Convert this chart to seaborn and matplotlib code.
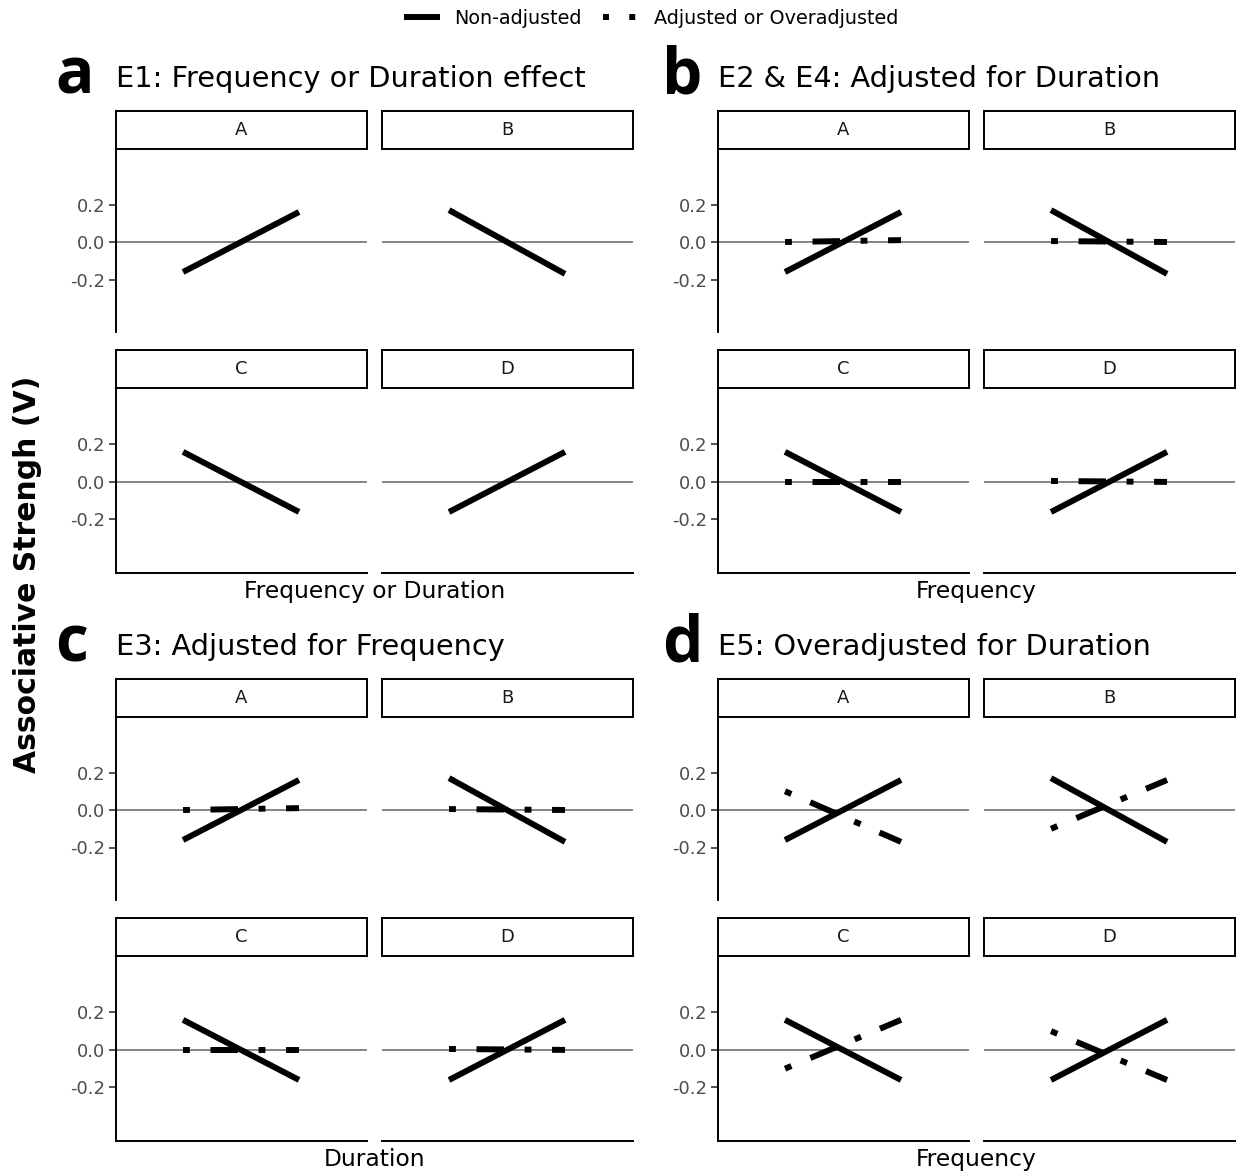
import numpy as np
import pandas as pd
import matplotlib.pyplot as plt
import seaborn as sns
from matplotlib.lines import Line2D

# Experiments (big panels) and their facets
groups = ['a', 'b', 'c', 'd']
titles = ['E1: Frequency or Duration effect', 'E2 & E4: Adjusted for Duration',
          'E3: Adjusted for Frequency', 'E5: Overadjusted for Duration']
xlabels = ['Frequency or Duration', 'Frequency', 'Duration', 'Frequency']
facets = ['A', 'B', 'C', 'D']

# Non-adjusted lines (value at start, value at end), same in every experiment
solid_start = [-0.16, 0.17, 0.16, -0.16]
solid_end = [0.16, -0.17, -0.16, 0.16]

# Adjusted / overadjusted lines
adj_b_start = [0.0, 0.005, 0.0, 0.005]
adj_b_end = [0.01, 0.0, 0.0, 0.0]
adj_c_start = [0.0, 0.005, 0.0, 0.005]
adj_c_end = [0.01, 0.0, 0.0, 0.0]
over_d_start = [0.1, -0.1, -0.1, 0.1]
over_d_end = [-0.17, 0.16, 0.16, -0.16]

yticks = [-0.2, 0.0, 0.2]
ytick_labels = ['-0.2', '0.0', '0.2']

# Build a long table
dashed = {'b': (adj_b_start, adj_b_end), 'c': (adj_c_start, adj_c_end),
          'd': (over_d_start, over_d_end)}
rows = []
for g in groups:
    for i, f in enumerate(facets):
        rows.append((g, f, 'Non-adjusted', 0, solid_start[i]))
        rows.append((g, f, 'Non-adjusted', 1, solid_end[i]))
        if g in dashed:
            s, e = dashed[g]
            rows.append((g, f, 'Adjusted', 0, s[i]))
            rows.append((g, f, 'Adjusted', 1, e[i]))
df = pd.DataFrame(rows, columns=['group', 'facet', 'type', 'x', 'v'])

sns.set_style('white')
plt.rcParams['font.family'] = ['DejaVu Sans']
plt.rcParams['text.color'] = 'black'

W, H = 1246, 1175
fig = plt.figure(figsize=(W / 100, H / 100), dpi=100)


def box(x0, y0, x1, y1):
    return [x0 / W, 1 - y1 / H, (x1 - x0) / W, (y1 - y0) / H]


LW = 4.3
dotdash = (0, (1.15, 3.45, 4.6, 3.45))
col_x = [[(116, 367), (382, 633)], [(718, 969), (984, 1235)]]
strip_y = [(111, 149), (350, 388)]
panel_y = [(149, 332), (388, 573)]
title_x = [116, 718]
letter_x = [55, 662]

for gi, g in enumerate(groups):
    gc, gr = gi % 2, gi // 2
    dy = 568 * gr
    for fi, f in enumerate(facets):
        r, c = fi // 2, fi % 2
        x0, x1 = col_x[gc][c]
        # strip
        sa = fig.add_axes(box(x0, strip_y[r][0] + dy, x1, strip_y[r][1] + dy))
        sa.set_xticks([])
        sa.set_yticks([])
        for sp in sa.spines.values():
            sp.set_visible(True)
            sp.set_color('black')
            sp.set_linewidth(1.4)
        sa.text(0.5, 0.5, f, ha='center', va='center', fontsize=13, color='#1a1a1a',
                transform=sa.transAxes)
        # panel
        ax = fig.add_axes(box(x0, panel_y[r][0] + dy, x1, panel_y[r][1] + dy))
        ax.set_facecolor('none')
        ax.axhline(0, color='#858585', lw=1.4, zorder=1)
        sub = df[(df.group == g) & (df.facet == f)]
        sns.lineplot(data=sub[sub.type == 'Non-adjusted'], x='x', y='v', ax=ax,
                     color='black', lw=LW, solid_capstyle='butt', zorder=3)
        if g in dashed:
            sns.lineplot(data=sub[sub.type == 'Adjusted'], x='x', y='v', ax=ax,
                         color='black', lw=LW, linestyle=dotdash, dash_capstyle='butt',
                         zorder=3)
        ax.set_xlim(-0.578, 1.586)
        ax.set_ylim(-0.48 if r == 0 else -0.485, 0.496 if r == 0 else 0.50)
        ax.set_xlabel('')
        ax.set_ylabel('')
        ax.set_xticks([])
        for sp in ax.spines.values():
            sp.set_visible(False)
            sp.set_color('black')
            sp.set_linewidth(1.4)
        if c == 0:
            ax.spines['left'].set_visible(True)
            ax.set_yticks(yticks)
            ax.set_yticklabels(ytick_labels)
            ax.tick_params(axis='y', left=True, length=5, width=1.2, color='#333333',
                           labelsize=13, labelcolor='#4d4d4d', pad=3)
        else:
            ax.set_yticks([])
        if r == 1:
            ax.spines['bottom'].set_visible(True)

    fig.text(title_x[gc] / W, 1 - (87 + dy) / H, titles[gi], fontsize=20.7,
             ha='left', va='baseline', color='black')
    fig.text(letter_x[gc] / W, 1 - (93 + dy) / H, g, fontsize=46, fontweight='bold',
             family='Open Sans', ha='left', va='baseline', color='black')
    cx = (col_x[gc][0][0] + col_x[gc][1][1]) / 2
    fig.text(cx / W, 1 - (598 + dy) / H, xlabels[gi], fontsize=16.8,
             ha='center', va='baseline', color='black')

fig.text(28 / W, 1 - 574 / H, 'Associative Strengh (V)', rotation=90, fontsize=21.5,
         fontweight='bold', ha='center', va='center', color='black')

handles = [Line2D([], [], color='black', lw=LW, solid_capstyle='butt'),
           Line2D([], [], color='black', lw=LW, linestyle=(0, (1.0, 3.4)),
                  dash_capstyle='butt')]
fig.legend(handles=handles, labels=['Non-adjusted', 'Adjusted or Overadjusted'],
           loc='center', bbox_to_anchor=(651 / W, 1 - 18 / H), ncol=2, frameon=False,
           fontsize=13.8, handlelength=1.9, handletextpad=0.75, columnspacing=1.1,
           labelcolor='black')

fig.savefig('out.png', dpi=100, facecolor='white')
